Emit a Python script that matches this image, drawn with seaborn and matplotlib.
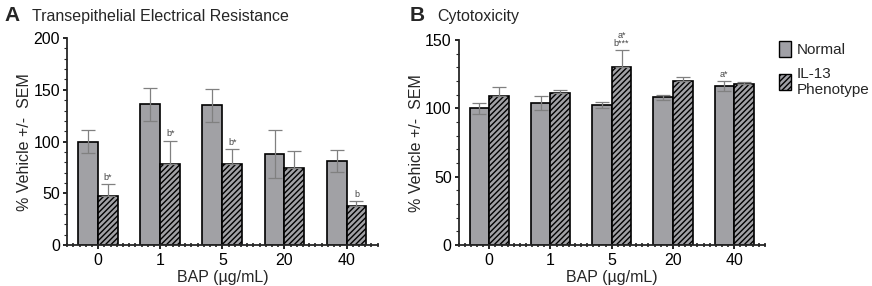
import numpy as np
import pandas as pd
import matplotlib
matplotlib.use('Agg')
import matplotlib.pyplot as plt
import matplotlib.patches as mpatches
from matplotlib.ticker import AutoMinorLocator, MultipleLocator
import seaborn as sns

# Datos
dosis = ['0', '1', '5', '20', '40']
grupos = ['Normal', 'IL-13\nPhenotype']

teer_normal = [100, 136, 135, 88, 81]
teer_normal_sem = [11, 16, 16, 23, 10.5]
teer_il13 = [47, 78, 78, 74, 38]
teer_il13_sem = [12, 23, 15, 17, 5]
teer_marcas = ['b*', 'b*', 'b*', '', 'b']

cito_normal = [100, 104, 102.5, 108, 116.5]
cito_normal_sem = [4, 5, 2, 1.5, 3.5]
cito_il13 = [109, 111.5, 130, 120, 117.5]
cito_il13_sem = [6.5, 2, 12.5, 3, 2]
cito_marcas_il13 = ['', '', 'a*\nb***', '', '']
cito_marcas_normal = ['', '', '', '', 'a*']

gris = '#a0a0a6'
gris_err = '#808080'

sns.set_style('ticks')
plt.rcParams['font.family'] = ['Liberation Sans', 'DejaVu Sans']
plt.rcParams['hatch.linewidth'] = 1.0
plt.rcParams['hatch.color'] = '#1a1a1a'

fig = plt.figure(figsize=(8.72, 2.86), dpi=100)
axA = fig.add_axes([0.077, 0.143, 0.356, 0.724])
axB = fig.add_axes([0.526, 0.143, 0.351, 0.717])


def panel(ax, normal, normal_sem, il13, il13_sem, ymax, ystep, marcas_n, marcas_i):
    df = pd.DataFrame({
        'dosis': dosis * 2,
        'grupo': [grupos[0]] * 5 + [grupos[1]] * 5,
        'valor': normal + il13,
    })
    sns.barplot(data=df, x='dosis', y='valor', hue='grupo', order=dosis,
                hue_order=grupos, palette=[gris, gris], width=0.64,
                errorbar=None, edgecolor='black', linewidth=1.2, ax=ax,
                legend=False)
    n = len(dosis)
    for i, p in enumerate(ax.patches[:2 * n]):
        if i >= n:
            p.set_hatch('//////')
    # barras de error
    xs = np.arange(n)
    ax.errorbar(xs - 0.16, normal, yerr=normal_sem, fmt='none', ecolor=gris_err,
                elinewidth=0.9, capsize=5, capthick=0.9, zorder=1)
    ax.errorbar(xs + 0.16, il13, yerr=[np.zeros(n), il13_sem], fmt='none',
                ecolor=gris_err, elinewidth=0.9, capsize=5, capthick=0.9, zorder=1)
    for i in range(n):
        if marcas_i[i]:
            ax.text(xs[i] + 0.16, il13[i] + il13_sem[i] + ymax * 0.01, marcas_i[i],
                    ha='center', va='bottom', fontsize=6.5, color='#444444',
                    linespacing=0.9)
        if marcas_n[i]:
            ax.text(xs[i] - 0.16, normal[i] + normal_sem[i] + ymax * 0.01, marcas_n[i],
                    ha='center', va='bottom', fontsize=6.5, color='#444444')
    ax.set_xlim(-0.5, n - 0.5)
    ax.set_ylim(0, ymax)
    ax.yaxis.set_major_locator(MultipleLocator(ystep))
    ax.yaxis.set_minor_locator(AutoMinorLocator(5))
    ax.xaxis.set_minor_locator(MultipleLocator(0.1))
    sns.despine(ax=ax)
    for s in ['left', 'bottom']:
        ax.spines[s].set_linewidth(1.3)
    ax.tick_params(axis='both', which='major', labelsize=11.5, width=1.2, length=3,
                   pad=2, color='black', labelcolor='black')
    ax.tick_params(axis='x', which='major', pad=3)
    ax.tick_params(axis='y', which='minor', length=2, width=0.8)
    ax.tick_params(axis='x', which='minor', direction='inout', length=3, width=1.2)
    ax.set_xlabel('BAP (µg/mL)', fontsize=11.5, labelpad=1)
    ax.set_ylabel('% Vehicle +/-  SEM', fontsize=11.5, labelpad=1)


panel(axA, teer_normal, teer_normal_sem, teer_il13, teer_il13_sem, 200, 50,
      [''] * 5, teer_marcas)
panel(axB, cito_normal, cito_normal_sem, cito_il13, cito_il13_sem, 150, 50,
      cito_marcas_normal, cito_marcas_il13)

fig.text(0.005, 0.925, 'A', fontsize=15, fontweight='bold')
fig.text(0.037, 0.925, 'Transepithelial Electrical Resistance', fontsize=11.5)
fig.text(0.470, 0.925, 'B', fontsize=15, fontweight='bold')
fig.text(0.502, 0.925, 'Cytotoxicity', fontsize=11.5)

handles = [mpatches.Patch(facecolor=gris, edgecolor='black', label=grupos[0]),
           mpatches.Patch(facecolor=gris, edgecolor='black', hatch='//////',
                          label=grupos[1])]
fig.legend(handles=handles, loc='upper left', bbox_to_anchor=(0.893, 0.855),
           frameon=False, fontsize=11, handlelength=0.8, handleheight=1.2,
           handletextpad=0.4, labelspacing=0.6, borderaxespad=0, borderpad=0)

fig.savefig('out.png', dpi=100)
